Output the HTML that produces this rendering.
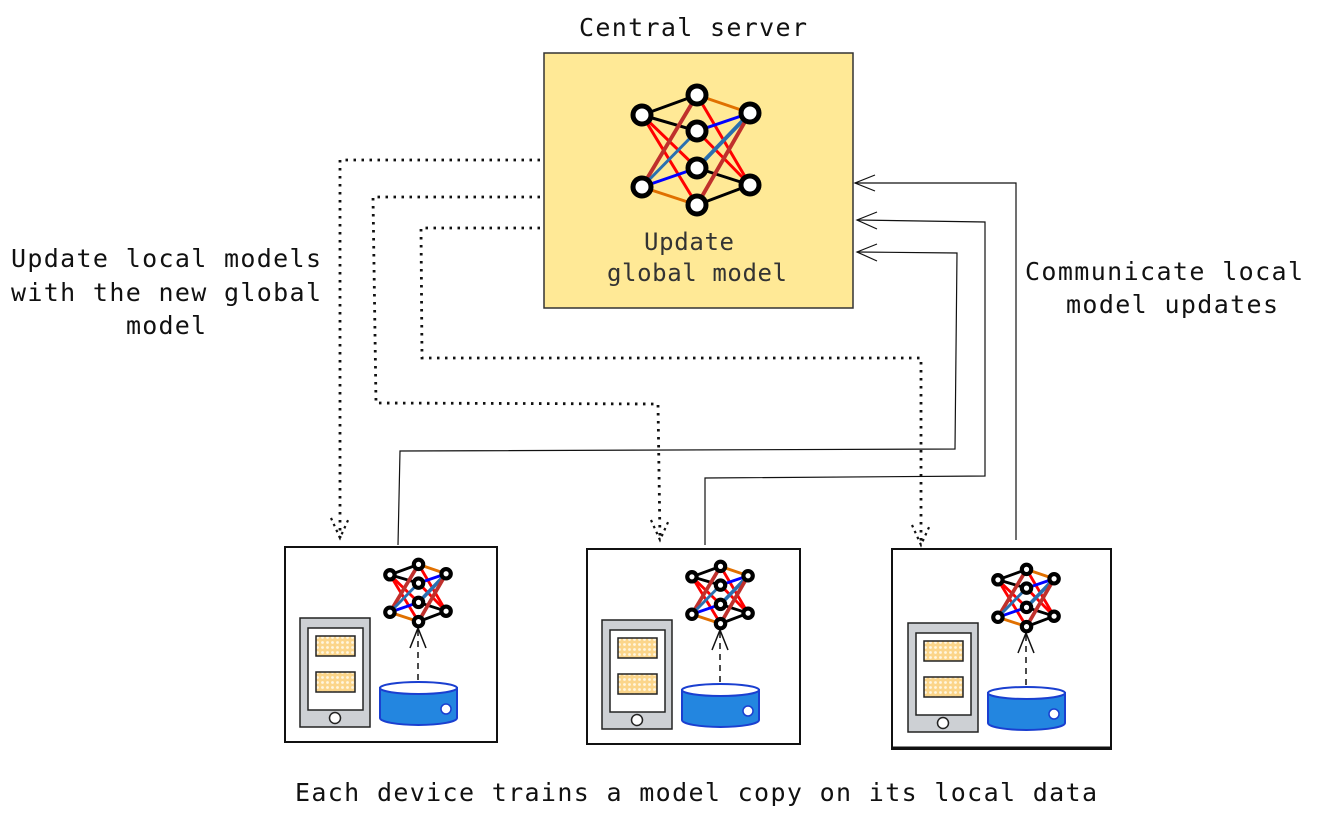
<!DOCTYPE html>
<html><head><meta charset="utf-8"><style>
html,body{margin:0;padding:0;background:#fff;}
svg{display:block;}
text{font-family:"DejaVu Sans Mono","Liberation Mono",monospace;font-size:25px;fill:#111;}
.ln{stroke-width:var(--lw);}
.lt{stroke-width:calc(var(--lw) * 1.3);}
.nd{stroke-width:var(--cw);}
</style></head><body>
<svg width="1330" height="818" viewBox="0 0 1330 818" xmlns="http://www.w3.org/2000/svg">
<defs>
<pattern id="chk" width="5" height="5" patternUnits="userSpaceOnUse">
<rect width="5" height="5" fill="#fbd58a"/><circle cx="2.5" cy="2.5" r="1.4" fill="#fff6e0"/>
</pattern>
<g id="nn">
<g fill="none">
<line class="ln" x1="-54" y1="-35" x2="1" y2="-55" stroke="#000"/>
<line class="ln" x1="-54" y1="-35" x2="1" y2="-19" stroke="#000"/>
<line class="ln" x1="-54" y1="-35" x2="1" y2="18" stroke="#f00"/>
<line class="ln" x1="-54" y1="-35" x2="1" y2="55" stroke="#f00"/>
<line class="lt" x1="-54" y1="37" x2="1" y2="-55" stroke="#c0302c"/>
<line class="ln" x1="-54" y1="37" x2="1" y2="-19" stroke="#2a70b0"/>
<line class="ln" x1="-54" y1="37" x2="1" y2="18" stroke="#00f"/>
<line class="ln" x1="-54" y1="37" x2="1" y2="55" stroke="#e07000"/>
<line class="ln" x1="1" y1="-55" x2="54" y2="-37" stroke="#e07000"/>
<line class="ln" x1="1" y1="-55" x2="54" y2="35" stroke="#f00"/>
<line class="ln" x1="1" y1="-19" x2="54" y2="-37" stroke="#00f"/>
<line class="ln" x1="1" y1="-19" x2="54" y2="35" stroke="#f00"/>
<line class="lt" x1="1" y1="18" x2="54" y2="-37" stroke="#2a70b0"/>
<line class="ln" x1="1" y1="18" x2="54" y2="35" stroke="#000"/>
<line class="lt" x1="1" y1="55" x2="54" y2="-37" stroke="#c0302c"/>
<line class="ln" x1="1" y1="55" x2="54" y2="35" stroke="#000"/>
</g>
<g fill="#fff" stroke="#000">
<circle class="nd" cx="-54" cy="-35" r="9"/><circle class="nd" cx="-54" cy="37" r="9"/>
<circle class="nd" cx="1" cy="-55" r="9"/><circle class="nd" cx="1" cy="-19" r="9"/><circle class="nd" cx="1" cy="18" r="9"/><circle class="nd" cx="1" cy="55" r="9"/>
<circle class="nd" cx="54" cy="-37" r="9"/><circle class="nd" cx="54" cy="35" r="9"/>
</g>
</g>
<g id="dev">
<rect x="300" y="618" width="70" height="109" fill="#cdd0d4" stroke="#222" stroke-width="1.5"/>
<rect x="308" y="628" width="55" height="82" fill="#fff" stroke="#222" stroke-width="1.5"/>
<rect x="316" y="636" width="39" height="20" fill="url(#chk)" stroke="#222" stroke-width="1.5"/>
<rect x="316" y="672" width="39" height="20" fill="url(#chk)" stroke="#222" stroke-width="1.5"/>
<circle cx="335" cy="718" r="5.5" fill="#fff" stroke="#222" stroke-width="1.5"/>
<path d="M380 688 L380 718 A38.5 7 0 0 0 457 718 L457 688 Z" fill="#2386e0" stroke="#1a3fd0" stroke-width="2"/>
<ellipse cx="418.5" cy="688" rx="38.5" ry="6" fill="#fff" stroke="#1a3fd0" stroke-width="2"/>
<circle cx="446" cy="709" r="5" fill="#fff" stroke="#1a3fd0" stroke-width="1.5"/>
<line x1="418" y1="680" x2="418" y2="628" stroke="#111" stroke-width="1.5" stroke-dasharray="6,5"/>
<path d="M410 648 L418 628 L426 648" fill="none" stroke="#111" stroke-width="1.5"/>
<use href="#nn" transform="translate(418,593) scale(0.52)" style="--lw:5.5;--cw:8"/>
</g>
</defs>

<rect x="544" y="53" width="309" height="255" fill="#ffe996" stroke="#333" stroke-width="1.5"/>
<use href="#nn" transform="translate(696,150)" style="--lw:3;--cw:5"/>
<text x="689" y="250" text-anchor="middle" style="font-size:24px;fill:#333" textLength="90">Update</text>
<text x="697" y="281" text-anchor="middle" style="font-size:24px;fill:#333" textLength="180">global model</text>

<text x="693" y="36" text-anchor="middle" textLength="228">Central server</text>
<text x="166" y="267" text-anchor="middle" textLength="310">Update local models</text>
<text x="166" y="301" text-anchor="middle" textLength="310">with the new global</text>
<text x="166" y="334" text-anchor="middle" textLength="80">model</text>
<text x="1164" y="280" text-anchor="middle" textLength="278">Communicate local</text>
<text x="1172" y="313" text-anchor="middle" textLength="212">model updates</text>
<text x="696" y="801" text-anchor="middle" textLength="802">Each device trains a model copy on its local data</text>

<g fill="none" stroke="#111" stroke-width="2.8" stroke-dasharray="2.5,5.5">
<path d="M540 160 L340 160 L340 538"/>
<path d="M540 197 L373 197 L376 403 L658 404 L660 540"/>
<path d="M540 228 L421 228 L422 358 L921 358 L921 545"/>
</g>
<g fill="none" stroke="#111" stroke-width="2.2" stroke-dasharray="2.5,4">
<path d="M331 518 L340 538 L349 518"/>
<path d="M651 520 L660 540 L669 520"/>
<path d="M912 525 L921 545 L930 525"/>
</g>
<g fill="none" stroke="#111" stroke-width="1.2">
<path d="M398 545 L400 451 L955 449 L957 253 L857 252"/>
<path d="M705 545 L705 478 L985 476 L985 222 L857 220"/>
<path d="M1016 540 L1016 183 L855 183"/>
<path d="M877 244 L857 252 L877 261"/>
<path d="M877 212 L857 220 L877 229"/>
<path d="M875 175 L855 183 L875 191"/>
</g>

<rect x="285" y="547" width="212" height="195" fill="#fff" stroke="#111" stroke-width="2"/>
<use href="#dev"/>
<rect x="587" y="549" width="213" height="195" fill="#fff" stroke="#111" stroke-width="2"/>
<use href="#dev" transform="translate(302,2)"/>
<rect x="892" y="549" width="219" height="200" fill="#fff" stroke="#111" stroke-width="2"/>
<line x1="893" y1="748" x2="1110" y2="748" stroke="#111" stroke-width="3"/>
<use href="#dev" transform="translate(608,5)"/>
</svg>
</body></html>
